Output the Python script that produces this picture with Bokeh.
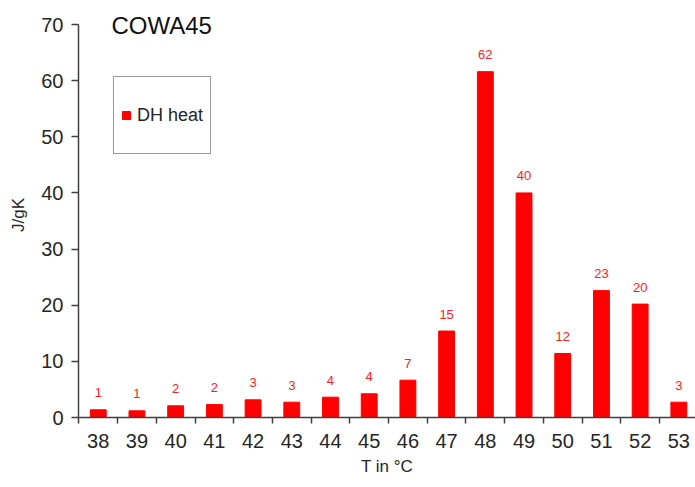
from bokeh.plotting import figure
from bokeh.models import Range1d, FixedTicker, Label, Legend, LegendItem
from bokeh.embed import file_html
from bokeh.resources import INLINE
from bokeh.core.properties import value

temps = [38, 39, 40, 41, 42, 43, 44, 45, 46, 47, 48, 49, 50, 51, 52, 53]
dh_heat = [1.37, 1.19, 2.08, 2.3, 3.15, 2.73, 3.62, 4.22, 6.65, 15.4, 61.6, 40.0, 11.4, 22.6, 20.2, 2.73]
value_labels = ["1", "1", "2", "2", "3", "3", "4", "4", "7", "15", "62", "40", "12", "23", "20", "3"]
y_ticks = [0, 10, 20, 30, 40, 50, 60, 70]
series_name = "DH heat"
chart_title = "COWA45"

FONT = "Liberation Sans"
AXIS_COL = "#404040"
TEXT_COL = "#262626"

p = figure(width=695, height=487, output_backend="svg", toolbar_location=None,
           x_range=Range1d(37.49, 53.43), y_range=Range1d(0, 72.14),
           min_border_left=78, min_border_right=0, min_border_top=12, min_border_bottom=70)
p.outline_line_color = None
p.xgrid.visible = False
p.ygrid.visible = False
p.background_fill_color = "white"
p.border_fill_color = "white"

bars = p.vbar(x=temps, top=dh_heat, width=0.41, fill_color="#ff0000", line_color="#ff0000")

p.text(x=temps, y=dh_heat, text=value_labels, text_color="#ff2020",
       text_font=value(FONT), text_font_size="13px", text_align="center",
       text_baseline="middle", y_offset=-17)

# x axis
xa = p.xaxis[0]
xa.ticker = FixedTicker(ticks=temps, minor_ticks=[t - 0.5 for t in temps] + [temps[-1] + 0.5])
xa.major_tick_out = 0
xa.major_tick_in = 0
xa.minor_tick_out = 6
xa.minor_tick_in = 0
xa.minor_tick_line_color = AXIS_COL
xa.minor_tick_line_width = 1.5
xa.axis_line_color = AXIS_COL
xa.axis_line_width = 1.5
xa.major_label_text_font = FONT
xa.major_label_text_font_size = "20px"
xa.major_label_text_color = TEXT_COL
xa.major_label_standoff = 10
xa.axis_label = "T in °C"
xa.axis_label_text_font = FONT
xa.axis_label_text_font_size = "17px"
xa.axis_label_text_font_style = "normal"
xa.axis_label_text_color = TEXT_COL
xa.axis_label_standoff = 6

# y axis
ya = p.yaxis[0]
ya.ticker = FixedTicker(ticks=y_ticks)
ya.bounds = (0, 70)
ya.major_tick_out = 7
ya.major_tick_in = 0
ya.minor_tick_out = 0
ya.minor_tick_in = 0
ya.major_tick_line_color = AXIS_COL
ya.major_tick_line_width = 1.5
ya.axis_line_color = AXIS_COL
ya.axis_line_width = 1.5
ya.major_label_text_font = FONT
ya.major_label_text_font_size = "20px"
ya.major_label_text_color = TEXT_COL
ya.major_label_standoff = 8
ya.axis_label = "J/gK"
ya.axis_label_text_font = FONT
ya.axis_label_text_font_size = "17px"
ya.axis_label_text_font_style = "normal"
ya.axis_label_text_color = TEXT_COL
ya.axis_label_standoff = 10

title = Label(x=33, y=392, x_units="screen", y_units="screen", text=chart_title,
              text_font=FONT, text_font_size="24px", text_color="#111111",
              text_baseline="middle")
p.add_layout(title)

legend = Legend(items=[LegendItem(label=series_name, renderers=[bars])],
                location=(35, 263), orientation="vertical",
                border_line_color="#333333", border_line_width=1,
                background_fill_color="white", background_fill_alpha=1,
                padding=7, margin=0, label_standoff=6,
                glyph_width=10, glyph_height=10, label_height=62,
                label_text_font=FONT, label_text_font_size="18px",
                label_text_color=TEXT_COL)
p.add_layout(legend)

open("out.html", "w").write(file_html(p, INLINE))
